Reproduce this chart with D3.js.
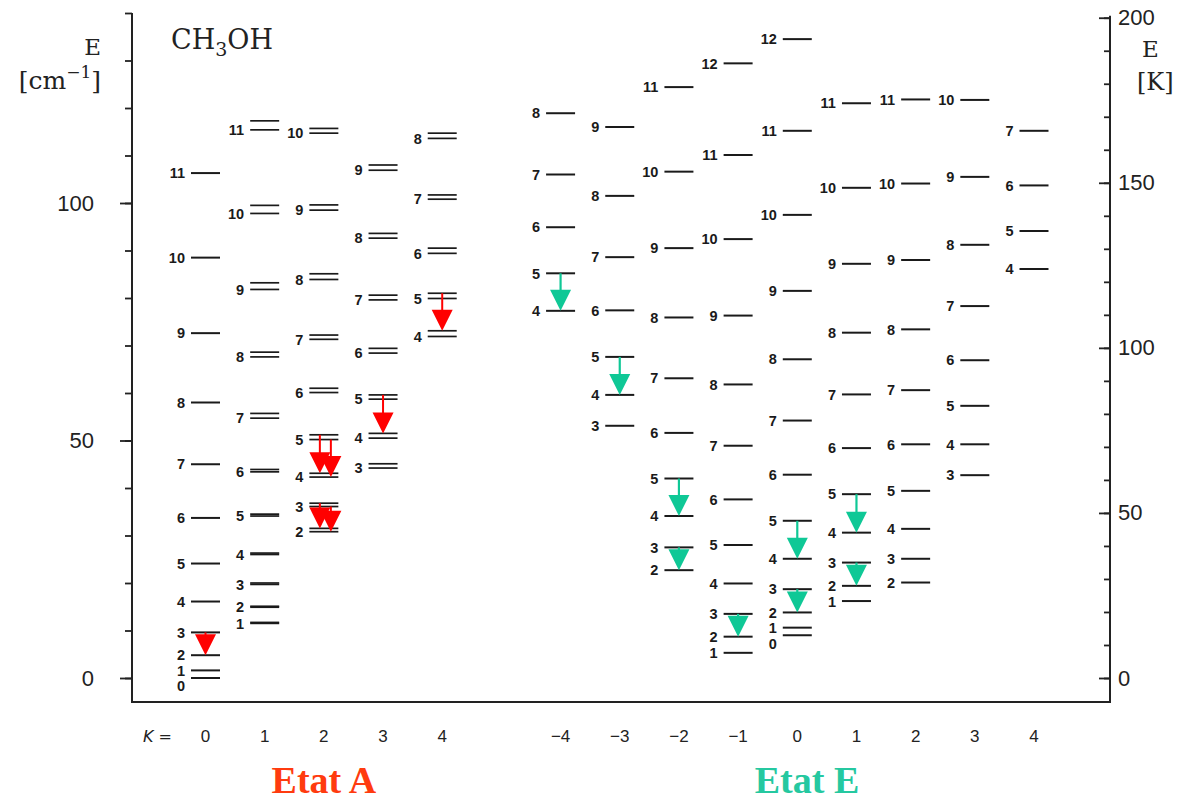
<!DOCTYPE html>
<html>
<head>
<meta charset="utf-8">
<script src="https://cdn.jsdelivr.net/npm/d3@7"></script>
<style>
  html, body { margin: 0; padding: 0; background: #fff; }
  svg { display: block; }
</style>
</head>
<body>
<svg id="chart" width="1195" height="803"></svg>
<script>
// ---------------- DATA (energies in cm^-1) ----------------
// A species, K = 0 (J = 0..11)
const A_K0 = [0.0, 1.6, 4.8, 9.6, 16.1, 24.1, 33.7, 45.0, 58.0, 72.6, 88.5, 106.3];
// A species, K >= 1 : doubled levels (upper / lower component), J starts at K
const A_K1_hi = [11.7, 15.1, 20.0, 26.3, 34.5, 43.9, 55.7, 68.6, 83.2, 99.5, 117.3];
const A_K1_lo = [11.5, 14.9, 19.7, 26.0, 34.1, 43.4, 54.7, 67.6, 81.8, 97.8, 115.4];
const A_K2_hi = [31.5, 36.8, 43.1, 51.2, 61.0, 72.2, 85.1, 99.6, 115.7];
const A_K2_lo = [30.8, 36.1, 42.3, 50.2, 60.1, 71.3, 83.9, 98.5, 114.7];
const A_K3_hi = [45.1, 51.5, 59.6, 69.4, 80.6, 93.6, 108.0];
const A_K3_lo = [44.2, 50.5, 58.7, 68.4, 79.6, 92.6, 106.9];
const A_K4_hi = [73.1, 81.0, 90.5, 101.7, 114.7];
const A_K4_lo = [71.9, 79.9, 89.4, 100.8, 113.6];
// E species, J starts at |K|
const E_Km4 = [77.3, 85.2, 94.9, 106.0, 118.9];
const E_Km3 = [53.1, 59.6, 67.6, 77.4, 88.6, 101.5, 116.0];
const E_Km2 = [22.7, 27.5, 34.1, 42.0, 51.6, 63.1, 75.9, 90.5, 106.6, 124.4];
const E_Km1 = [5.3, 8.7, 13.5, 19.9, 28.0, 37.6, 48.9, 61.8, 76.3, 92.4, 110.1, 129.4];
const E_K0  = [9.0, 10.6, 13.8, 18.7, 25.1, 33.1, 42.8, 54.2, 67.1, 81.5, 97.5, 115.2, 134.5];
const E_K1  = [16.2, 19.4, 24.3, 30.6, 38.7, 48.4, 59.7, 72.7, 87.2, 103.2, 121.0];
const E_K2  = [20.1, 25.1, 31.4, 39.4, 49.2, 60.6, 73.4, 88.0, 104.1, 121.8];
const E_K3  = [42.7, 49.2, 57.3, 66.9, 78.3, 91.2, 105.5, 121.7];
const E_K4  = [86.1, 94.1, 103.7, 115.2];

const kA = [0, 1, 2, 3, 4];
const kE = [-4, -3, -2, -1, 0, 1, 2, 3, 4];

// transitions: [column, J upper, J lower, component]
const arrowsA = [["A0", 3, 2, "hi"], ["A2", 5, 4, "hi"], ["A2", 5, 4, "lo"], ["A2", 3, 2, "hi"], ["A2", 3, 2, "lo"], ["A3", 5, 4, "hi"], ["A4", 5, 4, "hi"]];
const arrowsE = [["E-4", 5, 4], ["E-3", 5, 4], ["E-2", 5, 4], ["E-2", 3, 2], ["E-1", 3, 2], ["E0", 5, 4], ["E0", 3, 2], ["E1", 5, 4], ["E1", 3, 2]];

const leftTicksMajor = [0, 50, 100];
const rightTicksMajor = [0, 50, 100, 150, 200];
const CM_TO_K = 1.4388;

// ---------------- build column table ----------------
const columns = [
  {id: "A0", K: 0, hi: A_K0, lo: A_K0},
  {id: "A1", K: 1, hi: A_K1_hi, lo: A_K1_lo},
  {id: "A2", K: 2, hi: A_K2_hi, lo: A_K2_lo},
  {id: "A3", K: 3, hi: A_K3_hi, lo: A_K3_lo},
  {id: "A4", K: 4, hi: A_K4_hi, lo: A_K4_lo},
  {id: "E-4", K: -4, hi: E_Km4, lo: E_Km4},
  {id: "E-3", K: -3, hi: E_Km3, lo: E_Km3},
  {id: "E-2", K: -2, hi: E_Km2, lo: E_Km2},
  {id: "E-1", K: -1, hi: E_Km1, lo: E_Km1},
  {id: "E0", K: 0, hi: E_K0, lo: E_K0},
  {id: "E1", K: 1, hi: E_K1, lo: E_K1},
  {id: "E2", K: 2, hi: E_K2, lo: E_K2},
  {id: "E3", K: 3, hi: E_K3, lo: E_K3},
  {id: "E4", K: 4, hi: E_K4, lo: E_K4}
];
const colMap = new Map(columns.map(c => [c.id, c]));

// ---------------- scales ----------------
const svg = d3.select("#chart");
const xDomain = kA.map(k => "A" + k).concat(["gap"], kE.map(k => "E" + k));
const x = d3.scalePoint().domain(xDomain).range([205.5, 1034]);
const y = d3.scaleLinear().domain([0, 140]).range([678, 13]);
const yK = d3.scaleLinear().domain([0, 200]).range([y(0), y(200 / CM_TO_K)]);

const leftX = 132, rightX = 1110, bottomY = 702;
const halfW = 14.5;

// ---------------- frame & axes ----------------
svg.append("path")
  .attr("d", `M${leftX},${y(140)}V${bottomY}H${rightX}V${yK(200) - 2}`)
  .attr("fill", "none").attr("stroke", "#222").attr("stroke-width", 2);

const gLeftMinor = svg.append("g").attr("transform", `translate(${leftX},0)`)
  .call(d3.axisLeft(y).tickValues(d3.range(0, 141, 10)).tickSize(7).tickFormat(""));
const gLeft = svg.append("g").attr("transform", `translate(${leftX},0)`)
  .call(d3.axisLeft(y).tickValues(leftTicksMajor).tickSize(12).tickPadding(26));
const gRightMinor = svg.append("g").attr("transform", `translate(${rightX},0)`)
  .call(d3.axisRight(yK).tickValues(d3.range(0, 201, 10)).tickSizeInner(-6).tickSizeOuter(0).tickFormat(""));
const gRight = svg.append("g").attr("transform", `translate(${rightX},0)`)
  .call(d3.axisRight(yK).tickValues(rightTicksMajor).tickSizeInner(-11).tickSizeOuter(0));
[gLeftMinor, gLeft, gRightMinor, gRight].forEach(g => {
  g.select(".domain").remove();
  g.selectAll(".tick line").attr("stroke", "#222").attr("stroke-width", 1.8);
  g.selectAll(".tick text").attr("fill", "#222")
    .style("font-family", "'Liberation Sans', Arial, sans-serif").style("font-size", "22px");
});
gRight.selectAll(".tick text").attr("x", 8);

// axis titles
const serif = "'DejaVu Serif', serif";
svg.append("text").attr("x", 101).attr("y", 55).attr("text-anchor", "end")
  .style("font-family", serif).style("font-size", "23px").attr("fill", "#222").text("E");
const cmT = svg.append("text").attr("x", 101).attr("y", 89).attr("text-anchor", "end")
  .style("font-family", serif).style("font-size", "25px").attr("fill", "#222");
cmT.append("tspan").text("[cm");
cmT.append("tspan").attr("dy", -11).style("font-size", "17px").text("−1");
cmT.append("tspan").attr("dy", 11).text("]");
svg.append("text").attr("x", 1142).attr("y", 57)
  .style("font-family", serif).style("font-size", "23px").attr("fill", "#222").text("E");
svg.append("text").attr("x", 1137).attr("y", 90)
  .style("font-family", serif).style("font-size", "24px").attr("fill", "#222").text("[K]");

// title
const title = svg.append("text").attr("x", 171).attr("y", 49)
  .style("font-family", serif).style("font-size", "27px").attr("fill", "#222");
title.append("tspan").text("CH");
title.append("tspan").attr("dy", 7).style("font-size", "19px").text("3");
title.append("tspan").attr("dy", -7).text("OH");

// ---------------- levels ----------------
const gLev = svg.append("g");
columns.forEach(c => {
  const cx = x(c.id);
  const J0 = Math.abs(c.K);
  const doubled = c.hi !== c.lo;
  const lines = [];
  c.hi.forEach(e => lines.push(e));
  if (doubled) c.lo.forEach(e => lines.push(e));
  gLev.selectAll(null).data(lines).enter().append("line")
    .attr("x1", cx - halfW).attr("x2", cx + halfW)
    .attr("y1", d => y(d)).attr("y2", d => y(d))
    .attr("stroke", "#1a1a1a").attr("stroke-width", doubled ? 1.7 : 2);
  // labels (at lower component), pushed apart to avoid overlap
  const labs = c.lo.map((e, i) => ({J: J0 + i, yy: y(e)}));
  labs.sort((a, b) => a.yy - b.yy);
  for (let i = 1; i < labs.length; i++) {
    if (labs[i].yy - labs[i - 1].yy < 15.5) labs[i].yy = labs[i - 1].yy + 15.5;
  }
  gLev.selectAll(null).data(labs).enter().append("text")
    .attr("x", cx - halfW - 6).attr("y", d => d.yy).attr("dy", "0.36em")
    .attr("text-anchor", "end")
    .style("font-family", "'Liberation Sans', Arial, sans-serif")
    .style("font-weight", "bold").style("font-size", "14.5px").attr("fill", "#1a1a1a")
    .text(d => d.J);
});

// ---------------- arrows ----------------
const headH = 21, headHW = 10.5;
function drawArrow(g, cx, ySrc, yTip, color, sw) {
  g.append("line").attr("x1", cx).attr("x2", cx)
    .attr("y1", ySrc).attr("y2", yTip - headH + 2)
    .attr("stroke", color).attr("stroke-width", sw);
  g.append("path")
    .attr("d", `M${cx - headHW},${yTip - headH}L${cx + headHW},${yTip - headH}L${cx},${yTip}Z`)
    .attr("fill", color);
}
const gArr = svg.append("g");
arrowsA.forEach(([cid, ju, jl, comp]) => {
  const c = colMap.get(cid);
  const J0 = Math.abs(c.K);
  const arr = comp === "lo" ? c.lo : c.hi;
  const paired = arrowsA.filter(a => a[0] === cid && a[1] === ju).length > 1;
  const off = paired ? (comp === "hi" ? -4 : 7) : 0;
  drawArrow(gArr, x(cid) + off, y(arr[ju - J0]), y(arr[jl - J0]), "#ff0000", 2);
});
arrowsE.forEach(([cid, ju, jl]) => {
  const c = colMap.get(cid);
  const J0 = Math.abs(c.K);
  drawArrow(gArr, x(cid), y(c.hi[ju - J0]), y(c.hi[jl - J0]), "#0fc896", 2.2);
});

// ---------------- K row ----------------
const kRow = svg.append("g");
kRow.append("text").attr("x", 143).attr("y", 742)
  .style("font-family", "'DejaVu Sans', sans-serif").style("font-style", "italic")
  .style("font-size", "16px").attr("fill", "#222").text("K =");
const kCols = kA.map(k => ({id: "A" + k, k})).concat(kE.map(k => ({id: "E" + k, k})));
kRow.selectAll(null).data(kCols).enter().append("text")
  .attr("x", d => x(d.id)).attr("y", 742).attr("text-anchor", "middle")
  .style("font-family", "'Liberation Sans', Arial, sans-serif").style("font-size", "17px")
  .attr("fill", "#222")
  .text(d => d.k < 0 ? "−" + Math.abs(d.k) : d.k);

// ---------------- species titles ----------------
svg.append("text").attr("x", d3.mean(kA, k => x("A" + k))).attr("y", 793).attr("text-anchor", "middle")
  .style("font-family", "'Liberation Serif', 'Times New Roman', serif").style("font-weight", "bold")
  .style("font-size", "38px").attr("fill", "#ff3b0f").text("Etat A");
svg.append("text").attr("x", 807).attr("y", 793).attr("text-anchor", "middle")
  .style("font-family", "'Liberation Serif', 'Times New Roman', serif").style("font-weight", "bold")
  .style("font-size", "38px").attr("fill", "#25c8a0").text("Etat E");
</script>
</body>
</html>
